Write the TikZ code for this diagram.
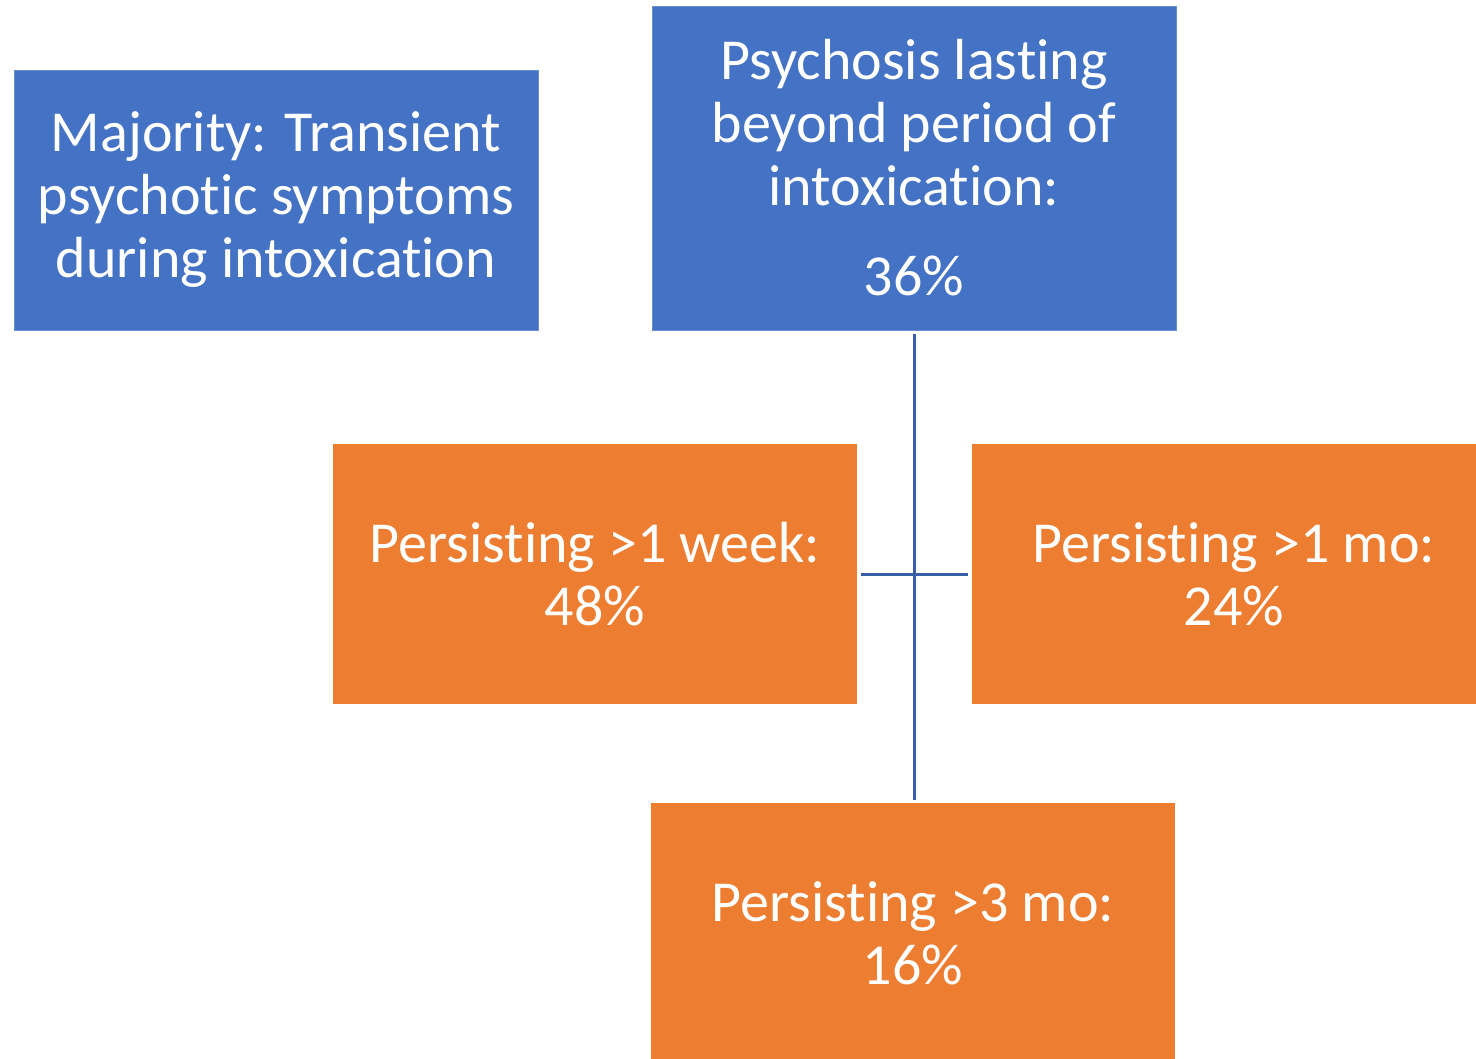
\documentclass[tikz,border=0pt]{standalone}
\usepackage{fontspec}
\setmainfont{Carlito}[RawFeature=-liga]
\usepackage{xcolor}
\definecolor{boxblue}{HTML}{4472C4}
\definecolor{boxorange}{HTML}{ED7D31}
\definecolor{linkblue}{HTML}{3A5DA8}

\begin{document}
\begin{tikzpicture}[x=1pt,y=-1pt,
            blubox/.style={shape=rectangle, fill=boxblue, draw=boxblue!80!white, line width=0.8pt, text=white, align=center, inner sep=0pt, font=\fontsize{58}{63}\selectfont},
            orabox/.style={shape=rectangle, fill=boxorange, text=white, align=center, inner sep=0pt, font=\fontsize{58}{63}\selectfont},
            link/.style={draw=linkblue, line width=3pt}]
        \useasboundingbox (0,0) rectangle (1476,1059);

        \node[blubox, minimum width=524pt, minimum height=260pt] (majority) at (276,200) {Majority: Transient\\psychotic symptoms\\during intoxication};
        \node[blubox, minimum width=524pt, minimum height=324pt] (lasting) at (914,168) {Psychosis lasting\\beyond period of\\intoxication:\\[27pt]36\%};

        \node[orabox, minimum width=524pt, minimum height=260pt] (week) at (595,574) {Persisting >1 week:\\48\%};
        \node[orabox, minimum width=524pt, minimum height=260pt] (month) at (1234,574) {Persisting >1 mo:\\24\%};
        \node[orabox, minimum width=524pt, minimum height=260pt] (three) at (913,933) {Persisting >3 mo:\\16\%};

        \draw[link, shorten <=4pt, shorten >=3pt] (lasting.south) -- (lasting.south |- three.north);
        \draw[link, shorten <=4pt, shorten >=4pt] (week.east) -- (month.west);
    \end{tikzpicture}
\end{document}
